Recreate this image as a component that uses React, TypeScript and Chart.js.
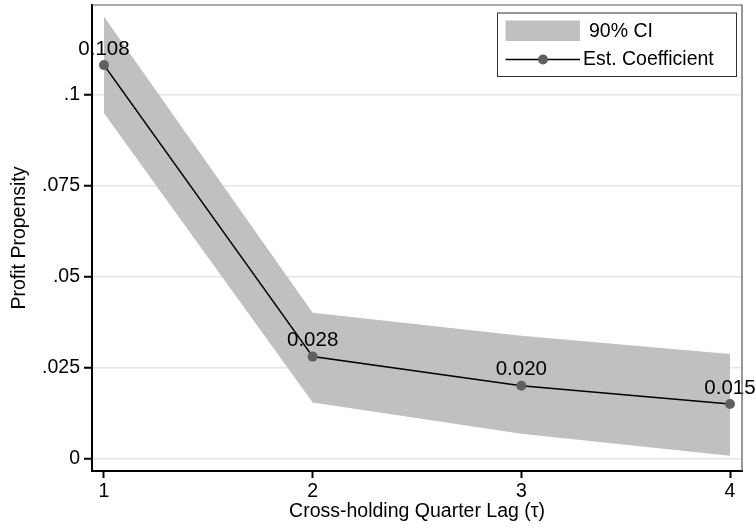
import React, { useEffect, useRef } from "react";
import { Chart, registerables } from "chart.js";

Chart.register(...registerables);

// Quarter lags and estimated coefficients with 90% confidence bounds
const lags = [1, 2, 3, 4];
const coefficients = [0.108, 0.028, 0.02, 0.015];
const ciUpper = [0.1213, 0.04, 0.0337, 0.0287];
const ciLower = [0.0948, 0.0154, 0.0068, 0.0008];

const xTickValues = [1, 2, 3, 4];
const yTickValues = [0, 0.025, 0.05, 0.075, 0.1];
const yTickLabels = ["0", ".025", ".05", ".075", ".1"];

const ciLabel = "90% CI";
const coefLabel = "Est. Coefficient";
const xTitle = "Cross-holding Quarter Lag (\u03C4)";
const yTitle = "Profit Propensity";

const FONT_FAMILY = "'Liberation Sans', Arial, Helvetica, sans-serif";
const BAND_COLOR = "#c0c0c0";
const DOT_COLOR = "#606060";

const decorations = {
  id: "decorations",
  afterDatasetsDraw(chart: any) {
    const ctx = chart.ctx as CanvasRenderingContext2D;
    const area = chart.chartArea;

    // value labels above each coefficient point
    const meta = chart.getDatasetMeta(0);
    ctx.save();
    ctx.fillStyle = "#000";
    ctx.font = `20.5px ${FONT_FAMILY}`;
    ctx.textAlign = "center";
    ctx.textBaseline = "middle";
    meta.data.forEach((pt: any, i: number) => {
      ctx.fillText(coefficients[i].toFixed(3), pt.x, pt.y - 16);
    });
    ctx.restore();

    // thin frame on the top and right of the plot region
    ctx.save();
    ctx.strokeStyle = "#555";
    ctx.lineWidth = 1.2;
    ctx.beginPath();
    ctx.moveTo(area.left, area.top);
    ctx.lineTo(area.right, area.top);
    ctx.lineTo(area.right, area.bottom);
    ctx.stroke();
    ctx.restore();

    // legend box in the upper right corner
    const bx = 497, by = 12.5, bw = 239, bh = 63.5;
    ctx.save();
    ctx.fillStyle = "#fff";
    ctx.fillRect(bx, by, bw, bh);
    ctx.strokeStyle = "#333";
    ctx.lineWidth = 1;
    ctx.strokeRect(bx + 0.5, by + 0.5, bw, bh);

    ctx.fillStyle = BAND_COLOR;
    ctx.fillRect(505.5, 20.5, 74.5, 20.5);

    ctx.strokeStyle = "#000";
    ctx.lineWidth = 1.6;
    ctx.beginPath();
    ctx.moveTo(505.5, 59.5);
    ctx.lineTo(580, 59.5);
    ctx.stroke();
    ctx.fillStyle = DOT_COLOR;
    ctx.beginPath();
    ctx.arc(543, 59.5, 5, 0, Math.PI * 2);
    ctx.fill();

    ctx.fillStyle = "#000";
    ctx.font = `19.5px ${FONT_FAMILY}`;
    ctx.textAlign = "left";
    ctx.textBaseline = "middle";
    ctx.fillText(chart.data.datasets[1].label, 589, 31.5);
    ctx.fillText(chart.data.datasets[0].label, 583, 60);
    ctx.restore();

    // axis titles
    ctx.save();
    ctx.fillStyle = "#000";
    ctx.font = `19.5px ${FONT_FAMILY}`;
    ctx.textAlign = "center";
    ctx.textBaseline = "middle";
    ctx.fillText(xTitle, (area.left + area.right) / 2, 512);
    ctx.translate(20, (area.top + area.bottom) / 2);
    ctx.rotate(-Math.PI / 2);
    ctx.fillText(yTitle, 0, 0);
    ctx.restore();
  },
};

export default function App() {
  const canvasRef = useRef<HTMLCanvasElement>(null);

  useEffect(() => {
    const canvas = canvasRef.current;
    if (!canvas) return;
    const chart = new Chart(canvas, {
      type: "line",
      data: {
        datasets: [
          {
            label: coefLabel,
            data: lags.map((x, i) => ({ x, y: coefficients[i] })),
            borderColor: "#000",
            borderWidth: 1.6,
            pointRadius: 5,
            pointBackgroundColor: DOT_COLOR,
            pointBorderWidth: 0,
            fill: false,
            tension: 0,
          },
          {
            label: ciLabel,
            data: lags.map((x, i) => ({ x, y: ciUpper[i] })),
            borderWidth: 0,
            borderColor: "rgba(0,0,0,0)",
            pointRadius: 0,
            backgroundColor: BAND_COLOR,
            fill: "+1",
            tension: 0,
          },
          {
            label: "ci-lower",
            data: lags.map((x, i) => ({ x, y: ciLower[i] })),
            borderWidth: 0,
            borderColor: "rgba(0,0,0,0)",
            pointRadius: 0,
            fill: false,
            tension: 0,
          },
        ],
      },
      options: {
        responsive: false,
        animation: false,
        layout: { padding: { top: 5, right: 14, left: 0, bottom: 0 } },
        plugins: {
          legend: { display: false },
          tooltip: { enabled: false },
        },
        scales: {
          x: {
            type: "linear",
            min: 0.9425,
            max: 4.0575,
            afterBuildTicks: (s: any) => {
              s.ticks = xTickValues.map((v) => ({ value: v }));
            },
            afterFit: (s: any) => {
              s.height = 57;
              s.paddingLeft = 0;
              s.paddingRight = 0;
            },
            ticks: {
              autoSkip: false,
              maxRotation: 0,
              padding: 2,
              color: "#000",
              font: { family: FONT_FAMILY, size: 19.5 },
              callback: (v: any) => String(v),
            },
            grid: {
              drawOnChartArea: false,
              drawTicks: true,
              tickLength: 7,
              tickColor: "#000",
              tickWidth: 2,
            },
            border: { color: "#000", width: 2 },
          },
          y: {
            type: "linear",
            min: -0.0034,
            max: 0.1245,
            afterBuildTicks: (s: any) => {
              s.ticks = yTickValues.map((v) => ({ value: v }));
            },
            afterFit: (s: any) => {
              s.width = 92;
              s.paddingTop = 0;
              s.paddingBottom = 0;
            },
            ticks: {
              autoSkip: false,
              padding: 4,
              color: "#000",
              font: { family: FONT_FAMILY, size: 19.5 },
              callback: (v: any) => {
                const idx = yTickValues.indexOf(v);
                return idx >= 0 ? yTickLabels[idx] : "";
              },
            },
            grid: {
              color: "#e6e6e6",
              lineWidth: 1.5,
              drawTicks: true,
              tickLength: 8,
              tickColor: "#000",
              tickWidth: 2,
            },
            border: { color: "#000", width: 2 },
          },
        },
      },
      plugins: [decorations],
    });
    return () => chart.destroy();
  }, []);

  return (
    <div style={{ position: "absolute", left: 0, top: 0, width: 756, height: 528, background: "#fff" }}>
      <canvas ref={canvasRef} width={756} height={528} style={{ display: "block" }} />
    </div>
  );
}
